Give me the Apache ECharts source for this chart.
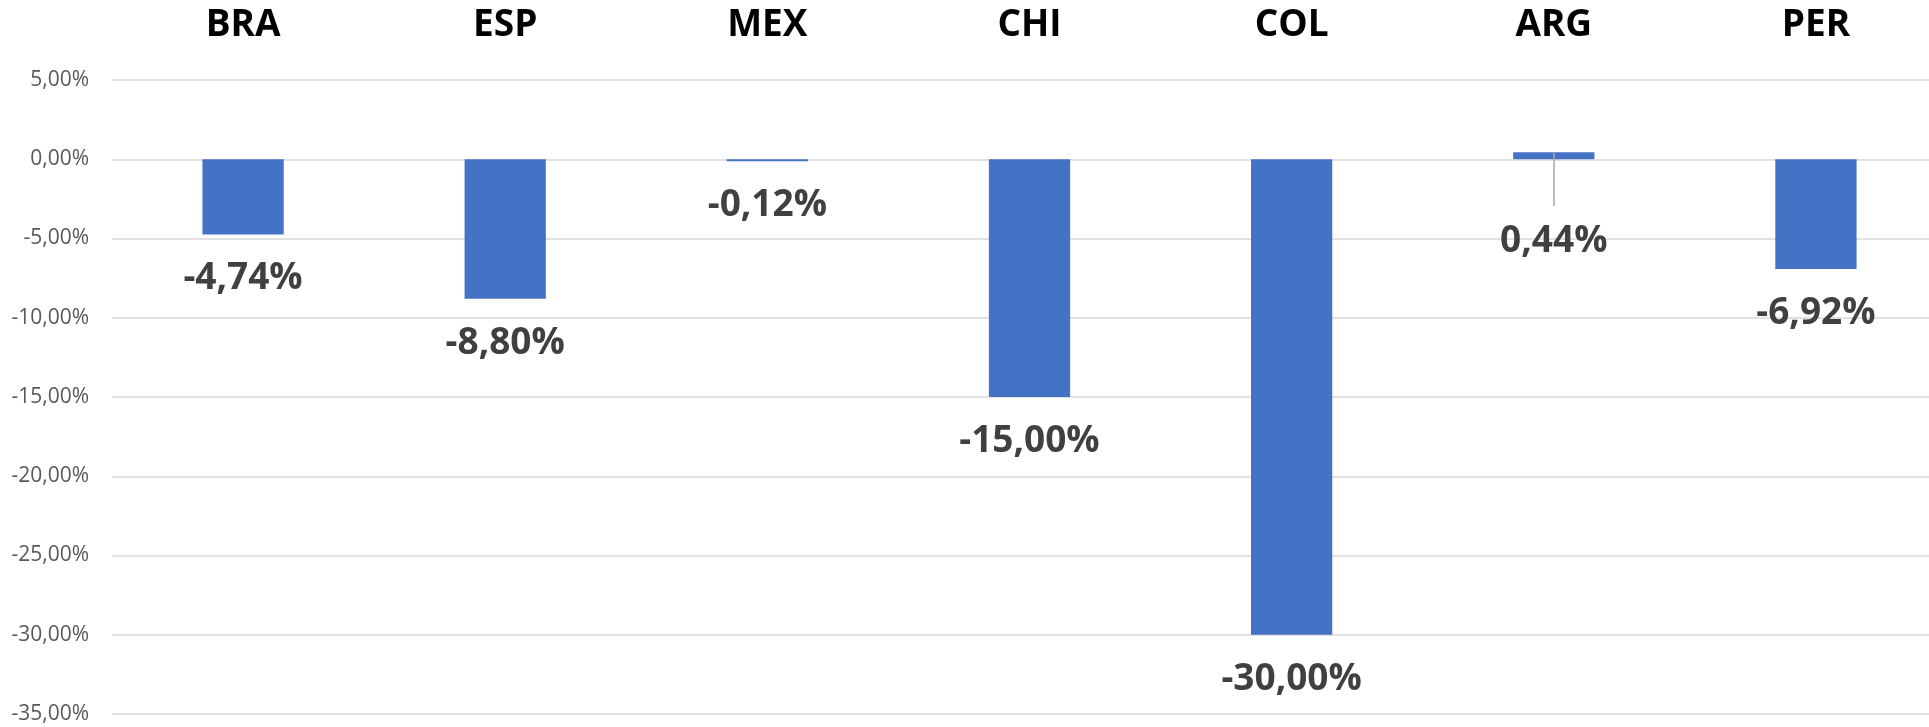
<!DOCTYPE html>
<html>
<head>
<meta charset="UTF-8">
<title>Variación</title>
<script src="https://cdn.jsdelivr.net/npm/echarts@6/dist/echarts.min.js"></script>
<style>
  html, body { margin: 0; padding: 0; background: #fff; overflow: hidden; }
  #main { width: 1929px; height: 727px; }
</style>
</head>
<body>
<div id="main"></div>
<script>
  // datos
  var paises = ['BRA', 'ESP', 'MEX', 'CHI', 'COL', 'ARG', 'PER'];
  var variacion = [-4.74, -8.80, -0.12, -15.00, -30.00, 0.44, -6.92];
  var ejeMin = -35, ejeMax = 5, ejeIntervalo = 5;

  function pct(v) {
    return v.toFixed(2).replace('.', ',') + '%';
  }

  var chart = echarts.init(document.getElementById('main'));

  var barras = variacion.map(function (v, i) {
    var item = { value: v };
    if (v > 0) {
      // etiqueta desplazada hacia abajo (como en el original)
      item.label = { distance: 64 };
    }
    return item;
  });

  // linea guia de la etiqueta positiva
  var guias = [];
  variacion.forEach(function (v, i) {
    if (v > 0) {
      guias.push([{ coord: [paises[i], v] }, { coord: [paises[i], -2.95] }]);
    }
  });

  chart.setOption({
    animation: false,
    grid: { left: 112, width: 1835, top: 80, bottom: 13, outerBoundsMode: 'none', containLabel: false },
    xAxis: {
      type: 'category',
      position: 'top',
      data: paises,
      axisLine: { show: false, onZero: false },
      axisTick: { show: false },
      axisLabel: {
        margin: 36,
        fontFamily: 'Open Sans',
        fontWeight: 'bold',
        fontSize: 37,
        color: '#000'
      }
    },
    yAxis: {
      type: 'value',
      min: ejeMin,
      max: ejeMax,
      interval: ejeIntervalo,
      axisLine: { show: false },
      axisTick: { show: false },
      splitLine: { lineStyle: { color: '#d9d9d9', width: 1.5 } },
      axisLabel: {
        margin: 23,
        fontFamily: 'Open Sans',
        fontSize: 21,
        color: '#595959',
        formatter: function (v) { return pct(v); }
      }
    },
    series: [{
      type: 'bar',
      data: barras,
      barWidth: '31%',
      itemStyle: { color: '#4472c4' },
      label: {
        show: true,
        position: 'bottom',
        distance: 26,
        fontFamily: 'Open Sans',
        fontWeight: 'bold',
        fontSize: 37,
        color: '#404040',
        formatter: function (p) { return pct(p.value); }
      },
      markLine: {
        silent: true,
        symbol: 'none',
        label: { show: false },
        lineStyle: { color: '#a6a6a6', width: 1.5, type: 'solid' },
        data: guias
      }
    }]
  });
</script>
</body>
</html>
